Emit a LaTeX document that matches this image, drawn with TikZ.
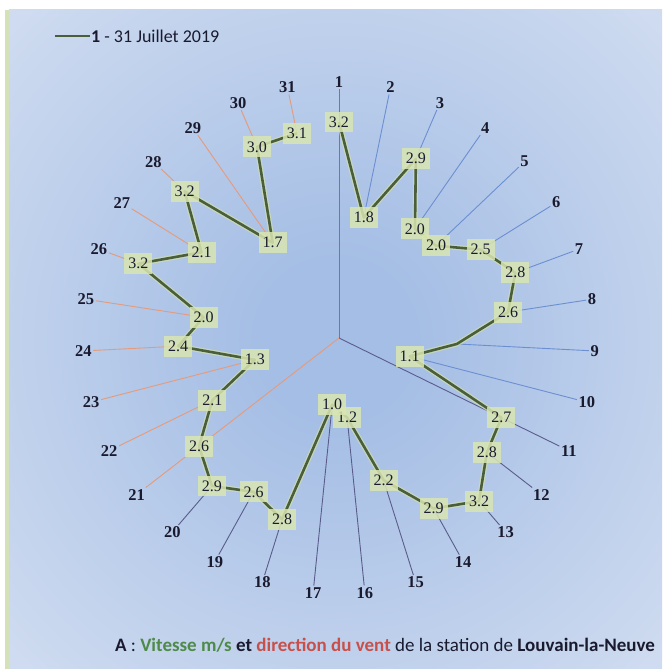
\documentclass[tikz,border=0pt]{standalone}
\usepackage{fontspec}
\setmainfont{Carlito}
\newfontfamily\numfont{Liberation Serif}
\definecolor{bgin}{HTML}{A5BEE5}
\definecolor{bgout}{HTML}{E2E9F5}
\definecolor{stripc}{HTML}{D5E2B9}
\definecolor{spkblue}{HTML}{6C8FD2}
\definecolor{axblue}{HTML}{4F80CC}
\definecolor{spkslate}{HTML}{5A5C8C}
\definecolor{spkorange}{HTML}{E59A7A}
\definecolor{dline}{HTML}{4A5E3C}
\definecolor{dglow}{HTML}{D3E2A6}
\definecolor{dlabfill}{HTML}{D9E6B2}
\definecolor{txtdark}{HTML}{1A1A2E}
\definecolor{capgreen}{HTML}{4E8A48}
\definecolor{capred}{HTML}{C8504A}
\pgfdeclareradialshading{bgshade}{\pgfpoint{0bp}{0bp}}{color(0bp)=(bgin); color(6bp)=(bgin); color(48bp)=(bgout); color(75bp)=(bgout)}
\tikzset{
  spklab/.style={font=\numfont\bfseries\fontsize{16.5}{16.5}\selectfont, text=txtdark, inner sep=1.5pt},
  datalab/.style={font=\numfont\fontsize{16}{16}\selectfont, text=txtdark, fill=dlabfill, fill opacity=0.85, text opacity=1, inner xsep=4pt, inner ysep=5pt},
  spkline/.style={line width=0.9pt},
  dataglow/.style={line width=5pt, dglow, opacity=0.7, line join=round},
  dataline/.style={line width=2.6pt, dline, line join=round}
}
\begin{document}
\begin{tikzpicture}[x=1pt,y=1pt]
\useasboundingbox (-339,-331) rectangle (323,338);
\fill[white] (-339,-331) rectangle (323,338);
\shade[shading=bgshade] (-330,-331) rectangle (323,328);
\fill[stripc] (-334,-331) rectangle (-330,328);
\coordinate (O) at (0,0);
% points and spoke labels
\foreach \k/\rr in {1/216,2/123,3/195,4/133,5/134,6/167,7/188,8/171,9/118,10/73,11/181,12/187,13/215,14/195,15/149,16/80,17/67,18/190,19/176,20/195,21/177,22/141,23/87,24/161,25/137,26/214,27/162,28/213,29/116,30/208,31/209}{
  \coordinate (p\k) at ({90-(\k-1)*360/31}:\rr);
  \node[spklab] (l\k) at ({90-(\k-1)*360/31}:256) {\k};
}
% spokes
\draw[spkline, axblue] (l1) -- (O);
\draw[spkline, spkslate] (O) -- (l11);
\draw[spkline, spkorange] (O) -- (l21);
\foreach \k in {2,...,10}{\draw[spkline, spkblue] (l\k) -- (p\k);}
\foreach \k in {12,...,20}{\draw[spkline, spkslate] (l\k) -- (p\k);}
\foreach \k in {22,...,31}{\draw[spkline, spkorange] (l\k) -- (p\k);}
% data line
\draw[dataglow] (p1) \foreach \k in {2,...,31}{ -- (p\k)};
\draw[dataline] (p1) \foreach \k in {2,...,31}{ -- (p\k)};
% data labels
\foreach \k/\vv in {1/3.2,2/1.8,3/2.9,4/2.0,5/2.0,6/2.5,7/2.8,8/2.6,10/1.1,11/2.7,12/2.8,13/3.2,14/2.9,15/2.2,16/1.2,17/1.0,18/2.8,19/2.6,20/2.9,21/2.6,22/2.1,23/1.3,24/2.4,25/2.0,26/3.2,27/2.1,28/3.2,29/1.7,30/3.0,31/3.1}{
  \node[datalab] (d\k) at (p\k) {\vv};
}
% legend
\coordinate (lgA) at (-284,302);
\coordinate (lgB) at (-249,302);
\draw[dataline] (lgA) -- (lgB);
\node[anchor=west, inner sep=1pt, font=\fontsize{18}{18}\selectfont, text=txtdark] (legend) at (lgB) {\textbf{1} - 31 Juillet 2019};
% caption
\node[font=\fontsize{19}{20}\selectfont, text=txtdark, inner sep=0pt] (caption) at (46,-307) {\textbf{A} : \textcolor{capgreen}{\textbf{Vitesse m/s}} \textbf{et} \textcolor{capred}{\textbf{direction du vent}} de la station de \textbf{Louvain-la-Neuve}};
\end{tikzpicture}
\end{document}
